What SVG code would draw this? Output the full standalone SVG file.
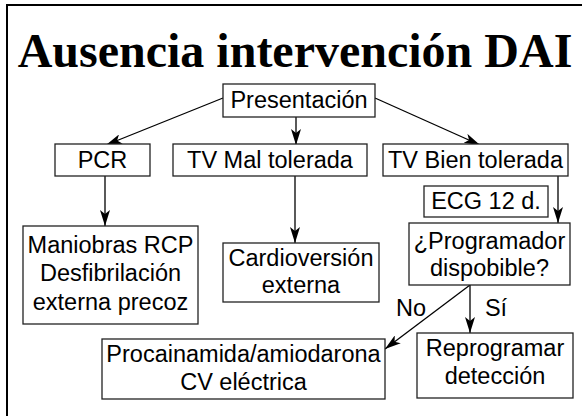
<svg xmlns="http://www.w3.org/2000/svg" width="582" height="416" viewBox="0 0 582 416">
<style>
.box{fill:#fff;stroke:#222;stroke-width:1.3}
.t{font-family:"Liberation Sans",Arial,sans-serif;font-size:23.5px;fill:#000;text-anchor:middle}
.c{stroke:#000;stroke-width:1.3;fill:none;marker-end:url(#ah)}
</style>
<defs>
<marker id="ah" viewBox="0 0 16 10" refX="16" refY="5" markerWidth="16" markerHeight="10" markerUnits="userSpaceOnUse" orient="auto">
<path d="M0,0 L16,5 L0,10 L4,5 Z" fill="#000"/>
</marker>
</defs>
<rect x="0" y="0" width="582" height="416" fill="#fff"/>
<rect x="7" y="5" width="600" height="450" fill="none" stroke="#000" stroke-width="2"/>
<text x="295" y="67" text-anchor="middle" font-family="'Liberation Serif','Times New Roman',serif" font-weight="bold" font-size="48">Ausencia intervención DAI</text>
<g id="connectors">
<line class="c" x1="223" y1="98" x2="106" y2="145"/>
<line class="c" x1="296" y1="117" x2="296" y2="145"/>
<line class="c" x1="375" y1="98" x2="480" y2="145"/>
<line class="c" x1="105" y1="176" x2="105" y2="226"/>
<line class="c" x1="295" y1="176" x2="295" y2="243"/>
<line class="c" x1="558" y1="176" x2="558" y2="223"/>
<line class="c" x1="470" y1="285" x2="470" y2="333"/>
<line class="c" x1="470" y1="285" x2="385" y2="349"/>
</g>
<g id="presentacion"><rect class="box" x="223" y="84" width="152" height="33"/><text class="t" x="299" y="108">Presentación</text></g>
<g id="pcr"><rect class="box" x="55" y="144" width="95" height="32"/><text class="t" x="102.5" y="168">PCR</text></g>
<g id="tvmal"><rect class="box" x="173" y="144" width="194" height="32"/><text class="t" x="270" y="168">TV Mal tolerada</text></g>
<g id="tvbien"><rect class="box" x="383" y="144" width="185" height="32"/><text class="t" x="475.5" y="168">TV Bien tolerada</text></g>
<g id="ecg"><rect class="box" x="424" y="186" width="124" height="31"/><text class="t" x="486" y="209">ECG 12 d.</text></g>
<g id="programador"><rect class="box" x="409" y="223" width="161" height="62"/><text class="t" x="489.5" y="249">¿Programador</text><text class="t" x="489.5" y="276">dispobible?</text></g>
<g id="maniobras"><rect class="box" x="23" y="226" width="175" height="98"/><text class="t" x="110.5" y="253">Maniobras RCP</text><text class="t" x="110.5" y="281">Desfibrilación</text><text class="t" x="110.5" y="310">externa precoz</text></g>
<g id="cardioversion"><rect class="box" x="223" y="243" width="156" height="59"/><text class="t" x="301" y="266">Cardioversión</text><text class="t" x="301" y="293">externa</text></g>
<g id="procainamida"><rect class="box" x="102" y="339" width="283" height="60"/><text class="t" x="243.5" y="362">Procainamida/amiodarona</text><text class="t" x="243.5" y="390">CV eléctrica</text></g>
<g id="reprogramar"><rect class="box" x="417" y="333" width="156" height="65"/><text class="t" x="495" y="356">Reprogramar</text><text class="t" x="495" y="384">detección</text></g>
<text class="t" x="411" y="316">No</text>
<text class="t" x="496" y="316">Sí</text>
</svg>
